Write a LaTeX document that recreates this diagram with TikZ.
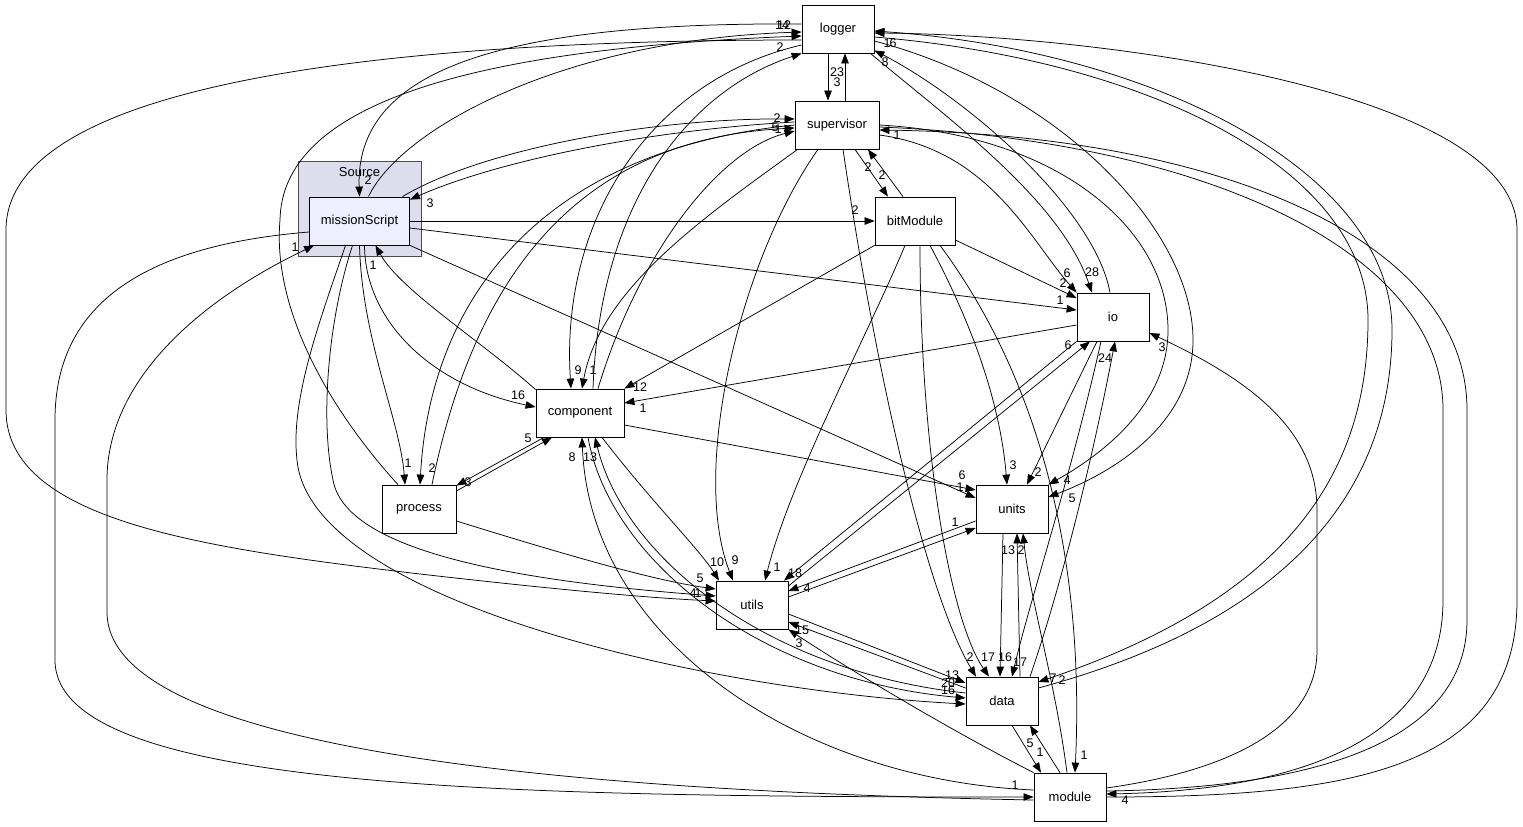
\documentclass[tikz,border=0pt]{standalone}
\usepackage{fontspec}
\setmainfont{Liberation Sans}
\usetikzlibrary{arrows.meta}
\definecolor{fondoCluster}{HTML}{DDDDEE}
\definecolor{fondoNodo}{HTML}{EEEEFF}

\begin{document}
\begin{tikzpicture}
  [x=1pt,y=-1pt,
   box/.style={rectangle,draw=black,fill=white,line width=0.8pt,inner sep=0pt,minimum height=48pt,font=\fontsize{13}{13}\selectfont},
   dep/.style={-{Triangle[length=10pt,width=7.5pt]},line width=0.75pt},
   lbl/.style={inner sep=0pt,font=\fontsize{12.5}{12.5}\selectfont}]
  \useasboundingbox (0,0) rectangle (1523,827);

  % Carpeta Source con missionScript dentro
  \node[draw=black!70,fill=fondoCluster,line width=0.8pt,minimum width=123pt,minimum height=95pt,inner sep=0pt] (src) at (359.5,208.5) {};
  \node[inner sep=0pt,font=\fontsize{13}{13}\selectfont] (srclbl) at (359.5,172) {Source};
  \node[box,fill=fondoNodo,minimum width=100pt] (mission) at (359.5,221) {missionScript};

  \node[box,minimum width=72pt] (logger) at (838,29) {logger};
  \node[box,minimum width=84pt] (supervisor) at (837,125) {supervisor};
  \node[box,minimum width=80pt] (bitModule) at (915,221) {bitModule};
  \node[box,minimum width=72pt] (io) at (1113,317) {io};
  \node[box,minimum width=88pt] (component) at (580,413) {component};
  \node[box,minimum width=74pt] (process) at (419,509) {process};
  \node[box,minimum width=72pt] (units) at (1012,509) {units};
  \node[box,minimum width=72pt] (utils) at (752,605) {utils};
  \node[box,minimum width=72pt] (data) at (1002,701) {data};
  \node[box,minimum width=72pt] (module) at (1070,797) {module};

  % missionScript
  \draw[dep] ([xshift=9pt]mission.north) .. controls (400,130) and (560,40) .. ([yshift=-3pt]logger.west);
  \draw[dep] ([yshift=5pt]logger.west) .. controls (500,22) and (355,70) .. (mission.north);
  \draw[dep] ([xshift=43pt]mission.north) .. controls (480,150) and (650,118) .. ([yshift=6pt]supervisor.west);
  \draw[dep] ([yshift=3pt]supervisor.west) .. controls (650,130) and (500,160) .. ([yshift=-3pt]mission.north east);
  \draw[dep] (mission.east) -- (bitModule.west);
  \draw[dep] ([yshift=-7pt]mission.east) -- ([yshift=7pt]io.west);
  \draw[dep] (mission.south east) -- ([yshift=11pt]units.west);
  \draw[dep] ([xshift=5pt]mission.south) .. controls (365,320) and (430,385) .. ([yshift=6pt]component.west);
  \draw[dep] ([yshift=-1pt]component.north west) .. controls (480,340) and (400,290) .. ([xshift=16pt]mission.south);
  \draw[dep] (mission.south) .. controls (362,340) and (400,420) .. ([xshift=-14pt]process.north);
  \draw[dep] ([xshift=-7pt]mission.south) .. controls (328,320) and (320,420) .. (333,480) .. controls (345,548) and (500,580) .. ([yshift=9pt]utils.west);
  \draw[dep] ([xshift=-14pt]mission.south) .. controls (320,320) and (290,400) .. (297,460) .. controls (310,600) and (700,690) .. ([yshift=-3pt]data.west);
  \draw[dep] ([yshift=-11pt]mission.west) .. controls (150,245) and (55,300) .. (55,420) -- (55,660) .. controls (55,790) and (500,797) .. (module.west);
  \draw[dep] ([yshift=-3pt]module.west) .. controls (500,790) and (107,740) .. (107,612) -- (107,480) .. controls (107,380) and (200,300) .. ([xshift=5pt]mission.south west);

  % logger
  \draw[dep] ([xshift=-10pt]logger.south) -- ([xshift=-9pt]supervisor.north);
  \draw[dep] ([xshift=8pt]supervisor.north) -- ([xshift=7pt]logger.south);
  \draw[dep] ([xshift=-21pt]process.north) .. controls (330,410) and (272,310) .. (280,220) .. controls (282,110) and (450,50) .. ([yshift=-7pt]logger.west);
  \draw[dep] ([yshift=-11pt]logger.west) .. controls (400,40) and (6,80) .. (6,230) -- (6,410) .. controls (6,520) and (200,548) .. (420,574) .. controls (560,590) and (650,598) .. ([yshift=4pt]utils.west);
  \draw[dep] ([xshift=13pt]component.north) .. controls (600,200) and (690,90) .. (logger.south west);
  \draw[dep] ([yshift=-16pt]logger.west) .. controls (650,80) and (560,220) .. ([xshift=-9pt]component.north);
  \draw[dep] ([xshift=-4pt]logger.south east) .. controls (950,120) and (1060,200) .. ([xshift=-21pt]io.north);
  \draw[dep] ([xshift=-3pt]io.north) .. controls (1095,210) and (970,100) .. ([yshift=3pt]logger.south east);
  \draw[dep] ([yshift=-8pt]logger.east) .. controls (1150,60) and (1368,170) .. (1368,320) .. controls (1368,480) and (1280,600) .. ([yshift=19pt]data.east);
  \draw[dep] ([yshift=13pt]data.east) .. controls (1290,620) and (1392,490) .. (1392,330) .. controls (1392,170) and (1150,50) .. ([yshift=-2pt]logger.east);
  \draw[dep] ([yshift=-12pt]logger.east) .. controls (1060,90) and (1193,230) .. (1193,340) .. controls (1193,420) and (1120,470) .. ([yshift=12pt]units.east);
  \draw[dep] (module.east) .. controls (1350,797) and (1517,770) .. (1517,600) -- (1517,230) .. controls (1517,90) and (1100,35) .. ([yshift=-4pt]logger.east);

  % supervisor
  \draw[dep] (supervisor.west) .. controls (540,150) and (430,300) .. ([xshift=1pt]process.north);
  \draw[dep] ([xshift=13pt]process.north) .. controls (470,300) and (560,140) .. ([yshift=-3pt]supervisor.west);
  \draw[dep] ([xshift=18pt]component.north) .. controls (640,250) and (720,150) .. ([yshift=-6pt]supervisor.west);
  \draw[dep] ([xshift=3pt]supervisor.south west) .. controls (700,220) and (600,290) .. ([xshift=2pt]component.north);
  \draw[dep] ([xshift=18pt]supervisor.south) -- ([xshift=-27pt]bitModule.north);
  \draw[dep] ([xshift=-12pt]bitModule.north) -- ([xshift=31pt]supervisor.south);
  \draw[dep] ([yshift=-10pt]supervisor.east) .. controls (990,150) and (1030,240) .. (io.north west);
  \draw[dep] ([xshift=-19pt]supervisor.south) .. controls (740,260) and (690,470) .. ([xshift=-19pt]utils.north);
  \draw[dep] ([xshift=6pt]supervisor.south) .. controls (880,400) and (930,600) .. ([xshift=-26pt]data.north);
  \draw[dep] (supervisor.east) .. controls (1060,135) and (1168,230) .. (1168,330) .. controls (1168,400) and (1110,450) .. (units.north east);
  \draw[dep] ([yshift=-2pt]supervisor.east) .. controls (1200,140) and (1443,250) .. (1443,410) -- (1443,600) .. controls (1443,740) and (1300,790) .. ([yshift=3pt]module.east);
  \draw[dep] ([yshift=6pt]module.east) .. controls (1320,788) and (1467,740) .. (1467,620) -- (1467,410) .. controls (1467,240) and (1220,135) .. ([yshift=-5pt]supervisor.east);

  % bitModule
  \draw[dep] (bitModule.south west) -- (component.north east);
  \draw[dep] ([yshift=-19pt]bitModule.east) -- ([yshift=19pt]io.west);
  \draw[dep] ([xshift=-10pt]bitModule.south) .. controls (870,330) and (790,480) .. ([xshift=13pt]utils.north);
  \draw[dep] ([xshift=5pt]bitModule.south) .. controls (920,450) and (950,620) .. ([xshift=-13pt]data.north);
  \draw[dep] ([xshift=15pt]bitModule.south) .. controls (970,320) and (1000,400) .. ([xshift=-5pt]units.north);
  \draw[dep] ([xshift=25pt]bitModule.south) .. controls (1040,380) and (1085,560) .. ([xshift=5pt]module.north);

  % io
  \draw[dep] ([yshift=-8pt]io.west) -- ([yshift=10pt]component.east);
  \draw[dep] (io.south west) -- ([xshift=32pt]utils.north);
  \draw[dep] ([yshift=19pt]utils.east) -- ([xshift=-23pt]io.south);
  \draw[dep] ([xshift=-16pt]io.south) -- ([xshift=15pt]units.north);
  \draw[dep] ([xshift=-12pt]io.south) .. controls (1070,480) and (1030,600) .. ([xshift=10pt]data.north);
  \draw[dep] ([xshift=28pt]data.north) .. controls (1070,560) and (1100,420) .. ([xshift=2pt]io.south);
  \draw[dep] ([yshift=9pt]module.east) .. controls (1200,775) and (1317,740) .. (1317,650) -- (1317,510) .. controls (1317,430) and (1250,380) .. ([yshift=-16pt]io.east);

  % component y process
  \draw[dep] ([yshift=18pt]process.east) -- ([xshift=-28pt]component.south);
  \draw[dep] ([xshift=-36pt]component.south) -- ([yshift=-1pt]process.north east);
  \draw[dep] ([yshift=-12pt]process.east) .. controls (550,550) and (650,580) .. ([yshift=16pt]utils.west);
  \draw[dep] ([yshift=-12pt]component.east) -- ([yshift=19pt]units.west);
  \draw[dep] ([xshift=22pt]component.south) .. controls (650,500) and (700,550) .. ([xshift=-33pt]utils.north);
  \draw[dep] ([xshift=8pt]component.south) .. controls (610,560) and (760,680) .. ([yshift=3pt]data.west);
  \draw[dep] ([yshift=8pt]data.west) .. controls (770,672) and (625,560) .. ([xshift=15pt]component.south);
  \draw[dep] ([yshift=7pt]module.west) .. controls (800,780) and (590,640) .. ([xshift=2pt]component.south);

  % utils, units, data, module
  \draw[dep] ([yshift=-12pt]units.west) -- ([yshift=14pt]utils.east);
  \draw[dep] ([yshift=8pt]utils.east) -- ([yshift=-19pt]units.west);
  \draw[dep] ([yshift=-9pt]utils.east) -- ([yshift=18pt]data.west);
  \draw[dep] ([yshift=13pt]data.west) -- ([yshift=-17pt]utils.east);
  \draw[dep] (module.north west) .. controls (950,730) and (850,670) .. (utils.south east);
  \draw[dep] ([xshift=-9pt]units.south) -- ([xshift=-2pt]data.north);
  \draw[dep] ([xshift=18pt]data.north) -- ([xshift=5pt]units.south);
  \draw[dep] ([xshift=-3pt]module.north) .. controls (1055,680) and (1030,600) .. ([xshift=11pt]units.south);
  \draw[dep] ([xshift=10pt]data.south) -- ([xshift=-29pt]module.north);
  \draw[dep] ([xshift=-10pt]module.north) -- ([xshift=28pt]data.south);

  % Etiquetas con el numero de dependencias
  \foreach \x/\y/\t [count=\i] in {
      782/25/14, 784/25/12, 780/47/2, 887/43/1, 893/43/6, 885/62/8,
      837/72/23, 837/82/3, 777/118/2, 775/127/5, 778/129/1, 897/135/1,
      868/167/2, 882/175/2, 855/210/2, 368/180/2, 430/203/3, 295/247/1, 373/265/1,
      1067/273/6, 1092/272/28, 1063/283/2, 1060/300/1, 1068/345/6, 1105/358/24, 1162/347/3,
      518/395/16, 578/370/9, 593/370/1, 640/387/12, 643/408/1, 528/438/5, 572/457/8, 590/457/13,
      408/463/1, 432/468/2, 468/482/3,
      962/475/6, 960/487/1, 1013/465/3, 1038/472/2, 1067/480/4, 1072/498/5, 955/522/1, 1008/550/13, 1021/550/2,
      717/562/10, 735/560/9, 777/567/1, 795/573/18, 700/578/5, 693/593/4, 698/593/1, 807/588/4, 802/630/15, 799/643/3,
      970/657/2, 988/657/17, 1005/657/16, 1020/662/17, 952/675/13, 948/683/20, 948/690/16, 1053/678/7, 1062/680/2,
      1030/743/5, 1040/752/1, 1084/755/1, 1015/785/1, 1125/800/4}
    \node[lbl] (lab\i) at (\x,\y) {\t};

\end{tikzpicture}
\end{document}
